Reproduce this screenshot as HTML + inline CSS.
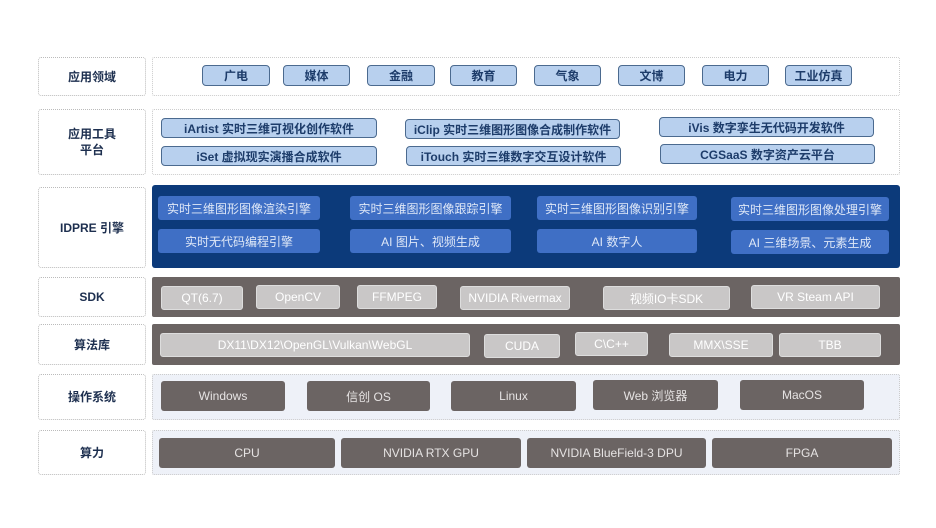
<!DOCTYPE html><html><head><meta charset="utf-8"><style>
body{margin:0;width:936px;height:528px;background:#fff;position:relative;overflow:hidden;font-family:"Liberation Sans","Noto Sans CJK SC",sans-serif}
div{position:absolute;box-sizing:border-box;display:flex;align-items:center;justify-content:center;text-align:center}
.l{left:38px;width:108px;border:1px dotted #bbb;border-radius:3px;font-size:12px;font-weight:bold;color:#1d2f4f;line-height:16px}
.c{left:152px;width:748px;border:1px dotted #ccc;border-radius:2px}
.b{background:#b8d0ee;border:1.5px solid #4b6a8f;border-radius:4px;font-size:12px;font-weight:bold;color:#1d3c6a}
.e{background:#3f6fc5;border-radius:3px;font-size:12px;color:#dfe8f7}
.g{background:#c9c7c7;border-radius:3px;font-size:12px;color:#fff;border:1px solid #ddd}
.o{background:#6b6463;border-radius:3px;font-size:12px;color:#e6e3e3}
</style></head><body>
<div class="l" style="top:57px;height:39px">应用领域</div>
<div class="l" style="top:109px;height:66px">应用工具<br>平台</div>
<div class="l" style="top:187px;height:81px">IDPRE 引擎</div>
<div class="l" style="top:277px;height:40px">SDK</div>
<div class="l" style="top:324px;height:41px">算法库</div>
<div class="l" style="top:374px;height:46px">操作系统</div>
<div class="l" style="top:430px;height:45px">算力</div>

<div class="c" style="top:57px;height:39px"></div>
<div class="c" style="top:109px;height:66px"></div>
<div class="c" style="top:185px;height:83px;background:#0c3a7a;border:none;border-radius:3px"></div>
<div class="c" style="top:277px;height:40px;background:#6b6463;border:none"></div>
<div class="c" style="top:324px;height:41px;background:#6b6463;border:none"></div>
<div class="c" style="top:374px;height:46px;background:#eef1f8"></div>
<div class="c" style="top:430px;height:45px;background:#eef1f8"></div>

<div class="b" style="left:202px;top:65px;width:68px;height:21px">广电</div>
<div class="b" style="left:283px;top:65px;width:67px;height:21px">媒体</div>
<div class="b" style="left:367px;top:65px;width:68px;height:21px">金融</div>
<div class="b" style="left:450px;top:65px;width:67px;height:21px">教育</div>
<div class="b" style="left:534px;top:65px;width:67px;height:21px">气象</div>
<div class="b" style="left:618px;top:65px;width:67px;height:21px">文博</div>
<div class="b" style="left:702px;top:65px;width:67px;height:21px">电力</div>
<div class="b" style="left:785px;top:65px;width:67px;height:21px">工业仿真</div>

<div class="b" style="left:161px;top:118px;width:216px;height:20px">iArtist 实时三维可视化创作软件</div>
<div class="b" style="left:161px;top:146px;width:216px;height:20px">iSet 虚拟现实演播合成软件</div>
<div class="b" style="left:405px;top:119px;width:215px;height:20px">iClip 实时三维图形图像合成制作软件</div>
<div class="b" style="left:406px;top:146px;width:215px;height:20px">iTouch 实时三维数字交互设计软件</div>
<div class="b" style="left:659px;top:117px;width:215px;height:20px">iVis 数字孪生无代码开发软件</div>
<div class="b" style="left:660px;top:144px;width:215px;height:20px">CGSaaS 数字资产云平台</div>

<div class="e" style="left:158px;top:196px;width:162px;height:24px">实时三维图形图像渲染引擎</div>
<div class="e" style="left:350px;top:196px;width:161px;height:24px">实时三维图形图像跟踪引擎</div>
<div class="e" style="left:537px;top:196px;width:160px;height:24px">实时三维图形图像识别引擎</div>
<div class="e" style="left:731px;top:197px;width:158px;height:24px">实时三维图形图像处理引擎</div>
<div class="e" style="left:158px;top:229px;width:162px;height:24px">实时无代码编程引擎</div>
<div class="e" style="left:350px;top:229px;width:161px;height:24px">AI 图片、视频生成</div>
<div class="e" style="left:537px;top:229px;width:160px;height:24px">AI 数字人</div>
<div class="e" style="left:731px;top:230px;width:158px;height:24px">AI 三维场景、元素生成</div>

<div class="g" style="left:161px;top:286px;width:82px;height:24px">QT(6.7)</div>
<div class="g" style="left:256px;top:285px;width:84px;height:24px">OpenCV</div>
<div class="g" style="left:357px;top:285px;width:80px;height:24px">FFMPEG</div>
<div class="g" style="left:460px;top:286px;width:110px;height:24px">NVIDIA Rivermax</div>
<div class="g" style="left:603px;top:286px;width:127px;height:24px">视频IO卡SDK</div>
<div class="g" style="left:751px;top:285px;width:129px;height:24px">VR Steam API</div>

<div class="g" style="left:160px;top:333px;width:310px;height:24px">DX11\DX12\OpenGL\Vulkan\WebGL</div>
<div class="g" style="left:484px;top:334px;width:76px;height:24px">CUDA</div>
<div class="g" style="left:575px;top:332px;width:73px;height:24px">C\C++</div>
<div class="g" style="left:669px;top:333px;width:104px;height:24px">MMX\SSE</div>
<div class="g" style="left:779px;top:333px;width:102px;height:24px">TBB</div>

<div class="o" style="left:161px;top:381px;width:124px;height:30px">Windows</div>
<div class="o" style="left:307px;top:381px;width:123px;height:30px">信创 OS</div>
<div class="o" style="left:451px;top:381px;width:125px;height:30px">Linux</div>
<div class="o" style="left:593px;top:380px;width:125px;height:30px">Web 浏览器</div>
<div class="o" style="left:740px;top:380px;width:124px;height:30px">MacOS</div>

<div class="o" style="left:159px;top:438px;width:176px;height:30px">CPU</div>
<div class="o" style="left:341px;top:438px;width:180px;height:30px">NVIDIA RTX GPU</div>
<div class="o" style="left:527px;top:438px;width:179px;height:30px">NVIDIA BlueField-3 DPU</div>
<div class="o" style="left:712px;top:438px;width:180px;height:30px">FPGA</div>
</body></html>
